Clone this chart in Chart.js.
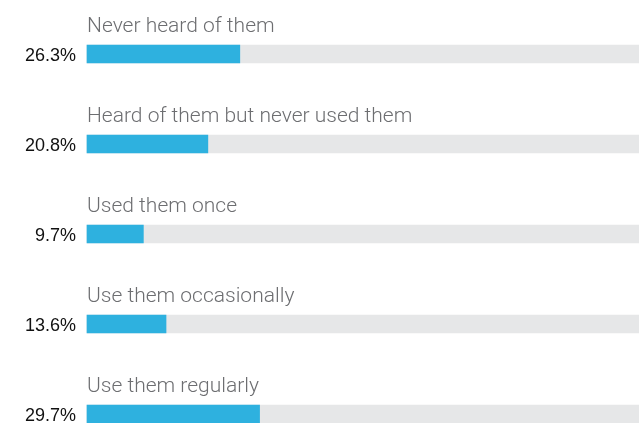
<!DOCTYPE html>
<html>
<head>
<meta charset="utf-8">
<script src="https://cdn.jsdelivr.net/npm/chart.js@4"></script>
<style>
  html, body { margin: 0; padding: 0; background: #fff; overflow: hidden; }
  #wrap { width: 639px; height: 423px; position: relative; }
</style>
</head>
<body>
<div id="wrap"><canvas id="usageChart"></canvas></div>
<script>
// survey answers, top to bottom
const categories = [
    "Never heard of them",
    "Heard of them but never used them",
    "Used them once",
    "Use them occasionally",
    "Use them regularly"
];
const shares = [26.3, 20.8, 9.7, 13.6, 29.7];
const valueLabels = ["26.3%", "20.8%", "9.7%", "13.6%", "29.7%"];
const axisMax = 95;

// draws the category text above each bar and the % value on the left
const barLabels = {
    id: "barLabels",
    afterDatasetsDraw(chart) {
        const ctx = chart.ctx;
        const yScale = chart.scales.y;
        const left = chart.chartArea.left;
        ctx.save();
        ctx.textBaseline = "alphabetic";
        categories.forEach((name, i) => {
            const y = yScale.getPixelForValue(i);
            ctx.font = "300 21px Roboto";
            ctx.fillStyle = "#6d6e71";
            ctx.textAlign = "left";
            ctx.fillText(name, left, y - 22);
            ctx.font = "18px 'Liberation Sans'";
            ctx.fillStyle = "#111";
            ctx.textAlign = "right";
            ctx.fillText(valueLabels[i], left - 11, y + 7);
        });
        ctx.restore();
    }
};

new Chart(document.getElementById("usageChart").getContext("2d"), {
    type: "bar",
    data: {
        labels: categories,
        datasets: [{
            data: shares,
            backgroundColor: "#2eb1df",
            barThickness: 18,
            grouped: false,
            clip: false,
            order: 0
        }, {
            data: categories.map(() => axisMax),
            backgroundColor: "#e6e7e8",
            barThickness: 18,
            grouped: false,
            clip: false,
            order: 1
        }]
    },
    options: {
        indexAxis: "y",
        responsive: true,
        maintainAspectRatio: false,
        animation: false,
        layout: { padding: { left: 87, right: 0, top: 54, bottom: 9 } },
        scales: {
            x: { display: false, min: 0, max: axisMax },
            y: { display: false, offset: false }
        },
        plugins: {
            legend: { display: false },
            tooltip: { enabled: false }
        }
    },
    plugins: [barLabels]
});
</script>
</body>
</html>
